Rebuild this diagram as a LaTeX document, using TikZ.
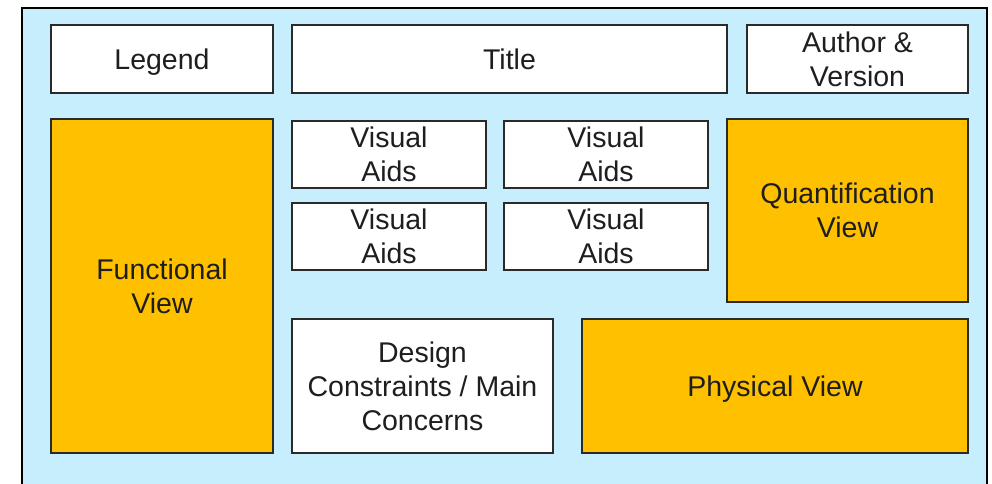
\documentclass[tikz,border=0pt]{standalone}
\usepackage{fontspec}
\setmainfont{Liberation Sans}
\definecolor{bgblue}{HTML}{C6EEFC}
\definecolor{orng}{HTML}{FFC000}
\definecolor{edge}{HTML}{2A2A2A}
\definecolor{txt}{HTML}{1E1E1E}
\begin{document}
\begin{tikzpicture}[x=1pt,y=-1pt,
  box/.style={draw=edge,line width=1.6pt,fill=white,inner sep=0pt,outer sep=0pt,
    align=center,text=txt,font=\fontsize{28.5}{34}\selectfont},
  obox/.style={box,fill=orng},
  oneline/.style={text height=20.5pt,text depth=0pt}]
\useasboundingbox (0,0) rectangle (992,483);
\draw[fill=bgblue,draw=black,line width=2pt] (22,8) rectangle (987,495);
\node[box,oneline,minimum width=222pt,minimum height=68pt] (legend) at (162,59) {Legend};
\node[box,oneline,minimum width=435pt,minimum height=68pt] (title) at (509.5,59) {Title};
\node[box,minimum width=221pt,minimum height=68pt] (author) at (857.5,59) {Author \&\\Version};
\node[obox,minimum width=222pt,minimum height=334pt] (functional) at (162,286) {Functional\\View};
\node[box,minimum width=194pt,minimum height=67pt] (va1) at (389,154.5) {Visual\\Aids};
\node[box,minimum width=204pt,minimum height=67pt] (va2) at (606,154.5) {Visual\\Aids};
\node[box,minimum width=194pt,minimum height=67pt] (va3) at (389,236.5) {Visual\\Aids};
\node[box,minimum width=204pt,minimum height=67pt] (va4) at (606,236.5) {Visual\\Aids};
\node[obox,minimum width=241pt,minimum height=183pt] (quant) at (847.5,210.5) {Quantification\\View};
\node[box,minimum width=261pt,minimum height=134pt] (design) at (422.5,386) {Design\\Constraints / Main\\Concerns};
\node[obox,oneline,minimum width=386pt,minimum height=134pt] (physical) at (775,386) {Physical View};
\end{tikzpicture}
\end{document}
